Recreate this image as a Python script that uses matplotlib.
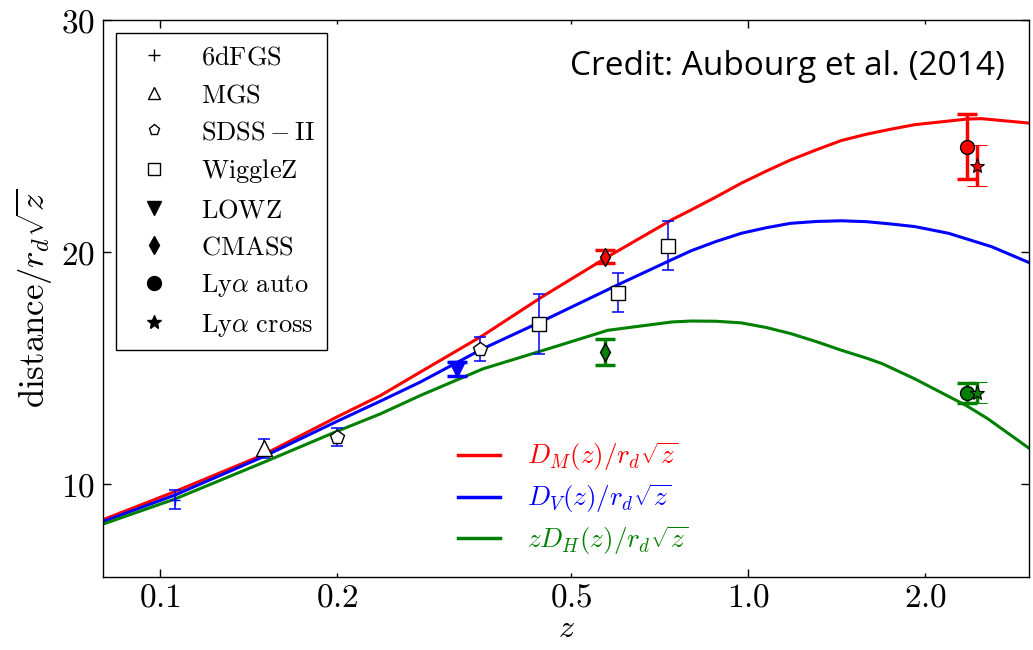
import matplotlib
matplotlib.use("Agg")
import matplotlib.pyplot as plt
from matplotlib.lines import Line2D
from matplotlib.ticker import FixedLocator, FixedFormatter, NullLocator

plt.rcParams['mathtext.fontset'] = 'cm'
plt.rcParams['font.family'] = 'serif'
plt.rcParams['axes.unicode_minus'] = False

# model curves: distance / (r_d sqrt(z))
z_dm = [0.08, 0.106, 0.15, 0.2, 0.237, 0.277, 0.354, 0.446, 0.577, 0.742, 0.80, 0.882,
        0.973, 1.073, 1.18, 1.306, 1.44, 1.589, 1.75, 1.918, 2.35, 2.49, 3.0]
dm = [8.47, 9.68, 11.27, 12.90, 13.82, 14.83, 16.41, 18.07, 19.80, 21.40, 21.82, 22.38,
      22.97, 23.49, 23.97, 24.41, 24.81, 25.08, 25.30, 25.49, 25.73, 25.75, 25.56]

z_dv = [0.08, 0.106, 0.15, 0.2, 0.237, 0.277, 0.354, 0.446, 0.607, 0.742, 0.80, 0.882,
        0.973, 1.073, 1.18, 1.306, 1.44, 1.589, 1.75, 1.918, 2.19, 2.594, 3.0]
dv = [8.39, 9.53, 11.19, 12.71, 13.58, 14.40, 15.84, 17.02, 18.65, 19.68, 20.06, 20.46,
      20.81, 21.05, 21.24, 21.32, 21.35, 21.31, 21.21, 21.10, 20.81, 20.23, 19.55]

z_dh = [0.08, 0.106, 0.15, 0.2, 0.237, 0.277, 0.354, 0.446, 0.577, 0.742, 0.80, 0.882,
        0.973, 1.073, 1.18, 1.306, 1.44, 1.589, 1.69, 1.918, 2.35, 2.55, 3.0]
dh = [8.28, 9.36, 10.94, 12.28, 13.03, 13.82, 14.97, 15.75, 16.63, 16.99, 17.03, 17.02,
      16.95, 16.75, 16.49, 16.14, 15.77, 15.43, 15.19, 14.54, 13.38, 12.83, 11.55]

# BAO measurements
z_6df, v_6df, e_6df = [0.106], [9.33], [0.40]
z_mgs, v_mgs, e_mgs = [0.15], [11.55], [0.41]
z_sdss, v_sdss, e_sdss = [0.2, 0.35], [12.03, 15.81], [0.37, 0.52]
z_wig, v_wig, e_wig = [0.44, 0.6, 0.73], [16.89, 18.25, 20.28], [1.30, 0.84, 1.06]
z_lowz, v_lowz, e_lowz = [0.32], [14.95], [0.30]
z_cmass = [0.57]
m_cmass, em_cmass = [19.80], [0.28]
h_cmass, eh_cmass = [15.68], [0.56]
z_auto = [2.35]
m_auto, em_auto = [24.55], [1.41]
h_auto, eh_auto = [13.94], [0.43]
z_cross = [2.45]
m_cross, em_cross = [23.73], [0.89]
h_cross, eh_cross = [13.95], [0.47]

survey_names = [r'$\mathrm{6dFGS}$', r'$\mathrm{MGS}$', r'$\mathrm{SDSS-II}$',
                r'$\mathrm{WiggleZ}$', r'$\mathrm{LOWZ}$', r'$\mathrm{CMASS}$',
                r'$\mathrm{Ly}\alpha\ \mathrm{auto}$', r'$\mathrm{Ly}\alpha\ \mathrm{cross}$']
curve_names = [r'$D_M(z)/r_d\sqrt{z}$', r'$D_V(z)/r_d\sqrt{z}$', r'$zD_H(z)/r_d\sqrt{z}$']

RED, BLUE, GREEN = 'red', 'blue', 'green'

fig = plt.figure(figsize=(10.33, 6.5), dpi=100)
ax = fig.add_axes([0.0997, 0.1123, 0.8964, 0.8569])

ax.plot(z_dm, dm, color=RED, lw=2.2, zorder=2)
ax.plot(z_dv, dv, color=BLUE, lw=2.2, zorder=2)
ax.plot(z_dh, dh, color=GREEN, lw=2.2, zorder=2)

thin = dict(elinewidth=1.1, capthick=1.1, capsize=4, zorder=3, ls='none')
thick = dict(elinewidth=2.5, capthick=2.5, capsize=7, zorder=3, ls='none')

ax.errorbar(z_6df, v_6df, yerr=e_6df, fmt='+', color=BLUE, ms=7, **thin)
ax.errorbar(z_mgs, v_mgs, yerr=e_mgs, fmt='^', color=BLUE, mfc='white', mec='k', ms=11, **thin)
ax.errorbar(z_sdss, v_sdss, yerr=e_sdss, fmt='p', color=BLUE, mfc='white', mec='k', ms=10, **thin)
ax.errorbar(z_wig, v_wig, yerr=e_wig, fmt='s', color=BLUE, mfc='white', mec='k', ms=10, **thin)
ax.errorbar(z_lowz, v_lowz, yerr=e_lowz, fmt='v', color=BLUE, mfc=BLUE, mec=BLUE, ms=11, **thick)
ax.errorbar(z_cmass, m_cmass, yerr=em_cmass, fmt='d', color=RED, mfc=RED, mec='k', ms=9, **thick)
ax.errorbar(z_cmass, h_cmass, yerr=eh_cmass, fmt='d', color=GREEN, mfc=GREEN, mec='k', ms=9, **thick)
ax.errorbar(z_auto, m_auto, yerr=em_auto, fmt='o', color=RED, mfc=RED, mec='k', ms=10, **thick)
ax.errorbar(z_auto, h_auto, yerr=eh_auto, fmt='o', color=GREEN, mfc=GREEN, mec='k', ms=10, **thick)
ax.errorbar(z_cross, m_cross, yerr=em_cross, fmt='*', color=RED, mfc=RED, mec='k', ms=11, mew=0.8, **thick)
ax.errorbar(z_cross, h_cross, yerr=eh_cross, fmt='*', color=GREEN, mfc=GREEN, mec='k', ms=11, mew=0.8, **thick)

ax.set_xscale('log')
ax.set_xlim(0.08, 3.0)
ax.set_ylim(6, 30)

ax.xaxis.set_major_locator(FixedLocator([0.1, 1.0]))
ax.xaxis.set_major_formatter(FixedFormatter([r'$0.1$', r'$1.0$']))
ax.xaxis.set_minor_locator(FixedLocator([0.2, 0.5, 2.0]))
ax.xaxis.set_minor_formatter(FixedFormatter([r'$0.2$', r'$0.5$', r'$2.0$']))
ax.yaxis.set_major_locator(FixedLocator([10, 20, 30]))
ax.yaxis.set_major_formatter(FixedFormatter([r'$10$', r'$20$', r'$30$']))
ax.yaxis.set_minor_locator(NullLocator())

ax.tick_params(which='both', direction='in', top=True, right=True, labelsize=24)
ax.tick_params(axis='x', which='both', pad=3)
ax.tick_params(axis='y', which='both', pad=6)
ax.tick_params(which='major', length=6, width=1)
ax.tick_params(which='minor', length=3, width=1)
for s in ax.spines.values():
    s.set_linewidth(1.0)

ax.set_xlabel(r'$z$', fontsize=23, labelpad=0)
ax.set_ylabel(r'$\mathrm{distance}/r_d\sqrt{z}$', fontsize=25, labelpad=4)

# survey legend (black proxies)
proxies = [
    Line2D([], [], ls='none', marker='+', color='k', ms=9, mew=1),
    Line2D([], [], ls='none', marker='^', mfc='white', mec='k', ms=8),
    Line2D([], [], ls='none', marker='p', mfc='white', mec='k', ms=8),
    Line2D([], [], ls='none', marker='s', mfc='white', mec='k', ms=8),
    Line2D([], [], ls='none', marker='v', mfc='k', mec='k', ms=10),
    Line2D([], [], ls='none', marker='d', mfc='k', mec='k', ms=9),
    Line2D([], [], ls='none', marker='o', mfc='k', mec='k', ms=10),
    Line2D([], [], ls='none', marker='*', mfc='k', mec='k', ms=10),
]
leg1 = ax.legend(proxies, survey_names, loc='upper left', bbox_to_anchor=(0.014, 0.977),
                 borderaxespad=0, fontsize=19, labelspacing=0.47, handletextpad=0.76,
                 fancybox=False, edgecolor='k', framealpha=1, borderpad=0.45)
leg1.get_frame().set_linewidth(1.0)
ax.add_artist(leg1)

curve_handles = [Line2D([], [], color=c, lw=2.5) for c in (RED, BLUE, GREEN)]
leg2 = ax.legend(curve_handles, curve_names, loc='upper left', bbox_to_anchor=(0.372, 0.266),
                 borderaxespad=0, fontsize=19.5, frameon=False, labelspacing=0.3,
                 handlelength=1.55, handletextpad=1.0)
for txt, c in zip(leg2.get_texts(), (RED, BLUE, GREEN)):
    txt.set_color(c)

ax.text(0.974, 0.916, 'Credit: Aubourg et al. (2014)', transform=ax.transAxes,
        ha='right', va='center', fontsize=24, family='Open Sans')

fig.savefig('out.png', dpi=100)
